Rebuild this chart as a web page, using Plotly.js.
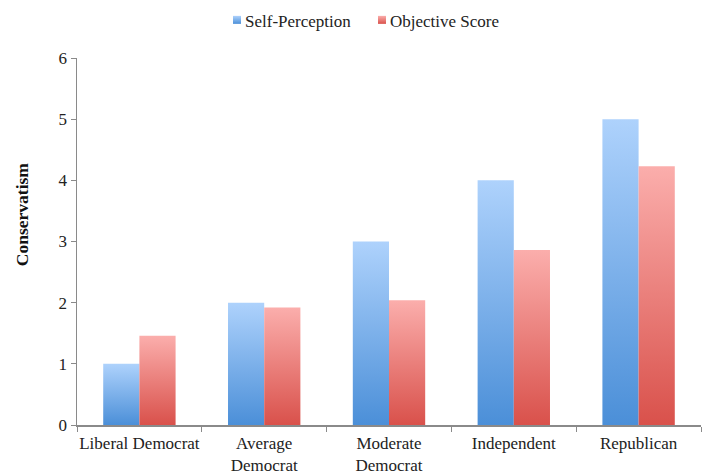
<!DOCTYPE html>
<html>
<head>
<meta charset="utf-8">
<script src="https://cdn.plot.ly/plotly-3.0.1.min.js"></script>
<style>
  html, body { margin: 0; padding: 0; background: #fff; }
  #chart { width: 707px; height: 474px; }
</style>
</head>
<body>
<div id="chart"></div>
<script>
// Party groups and their conservatism scores
const categories = ['Liberal Democrat', 'Average<br>Democrat', 'Moderate<br>Democrat', 'Independent', 'Republican'];
const selfPerception = [1, 2, 3, 4, 5];
const objectiveScore = [1.46, 1.92, 2.04, 2.86, 4.23];
const yTicks = [0, 1, 2, 3, 4, 5, 6];

const FONT = 'Liberation Serif, Times New Roman, serif';
const FS = 17;

const traces = [
  {
    type: 'bar', name: 'Self-Perception',
    x: categories, y: selfPerception,
    marker: { color: '#78ade9', line: { width: 0 } },
    hoverinfo: 'skip'
  },
  {
    type: 'bar', name: 'Objective Score',
    x: categories, y: objectiveScore,
    marker: { color: '#ec7d79', line: { width: 0 } },
    hoverinfo: 'skip'
  }
];

const layout = {
  width: 707, height: 474,
  margin: { l: 77, r: 6, t: 58, b: 49 },
  paper_bgcolor: '#ffffff', plot_bgcolor: '#ffffff',
  font: { family: FONT, size: FS, color: '#222' },
  barmode: 'group', bargap: 0.42, bargroupgap: 0,
  showlegend: true,
  legend: {
    orientation: 'h', x: 0.463, xanchor: 'center',
    y: 1.0, yref: 'container', yanchor: 'top',
    font: { family: FONT, size: FS, color: '#222' },
    itemwidth: 30, tracegroupgap: 0
  },
  xaxis: {
    showline: true, linecolor: '#8a8a8a', linewidth: 1.5,
    ticks: 'outside', tickson: 'boundaries', ticklen: 5, tickcolor: '#8a8a8a',
    tickangle: 0, ticklabelstandoff: 2,
    showgrid: false, zeroline: false, fixedrange: true,
    tickfont: { family: FONT, size: FS, color: '#222' }
  },
  yaxis: {
    range: [0, 6], tickvals: yTicks, ticktext: yTicks.map(String),
    showline: true, linecolor: '#8a8a8a', linewidth: 1.5,
    ticks: 'outside', ticklen: 5, tickcolor: '#8a8a8a',
    showgrid: false, zeroline: false, fixedrange: true,
    tickfont: { family: FONT, size: FS, color: '#222' }
  },
  annotations: [{
    text: '<b>Conservatism</b>', textangle: -90,
    xref: 'paper', yref: 'paper', x: -0.088, y: 0.572,
    xanchor: 'center', yanchor: 'middle', showarrow: false,
    font: { family: FONT, size: FS + 0.5, color: '#111' }
  }]
};

// Vertical light-to-dark fills for each series
const gradients = [
  { id: 'gradBlue', top: '#aed2fc', bottom: '#4b8fd8' },
  { id: 'gradRed', top: '#fbaeac', bottom: '#d9514b' }
];

// Where each legend label starts (left edge, vertical centre)
const legendSpots = [[245, 21], [390, 21]];

function applyGradients(gd) {
  const svg = gd.querySelector('svg.main-svg');
  const ns = 'http://www.w3.org/2000/svg';
  let defs = svg.querySelector('defs');
  if (!defs) { defs = document.createElementNS(ns, 'defs'); svg.insertBefore(defs, svg.firstChild); }
  gradients.forEach(g => {
    if (document.getElementById(g.id)) return;
    const lg = document.createElementNS(ns, 'linearGradient');
    lg.setAttribute('id', g.id);
    lg.setAttribute('x1', '0'); lg.setAttribute('y1', '0');
    lg.setAttribute('x2', '0'); lg.setAttribute('y2', '1');
    [[0, g.top], [1, g.bottom]].forEach(([off, col]) => {
      const s = document.createElementNS(ns, 'stop');
      s.setAttribute('offset', off);
      s.setAttribute('stop-color', col);
      lg.appendChild(s);
    });
    defs.appendChild(lg);
  });
  gd.querySelectorAll('g.trace.bars').forEach((tr, i) => {
    tr.querySelectorAll('path').forEach(p => { p.style.fill = 'url(#' + gradients[i].id + ')'; });
  });
  // small square legend keys sitting close to their labels
  const svgBox = svg.getBoundingClientRect();
  gd.querySelectorAll('g.legend g.traces').forEach((tr, i) => {
    const pts = tr.querySelector('g.legendpoints');
    if (pts) pts.setAttribute('transform', 'translate(12,0)');
    tr.querySelectorAll('g.legendpoints path').forEach(p => {
      p.setAttribute('d', 'M4,4H-4V-4H4Z');
      p.style.fill = 'url(#' + gradients[i].id + ')';
    });
    const txt = tr.querySelector('text.legendtext');
    if (!txt || !legendSpots[i]) return;
    const b = txt.getBoundingClientRect();
    const dx = legendSpots[i][0] - (b.left - svgBox.left);
    const dy = legendSpots[i][1] - (b.top + b.height / 2 - svgBox.top);
    const m = /translate\(([-\d.]+)[ ,]*([-\d.]+)?\)/.exec(tr.getAttribute('transform') || '');
    const x0 = m ? parseFloat(m[1]) : 0;
    const y0 = m && m[2] ? parseFloat(m[2]) : 0;
    tr.setAttribute('transform', 'translate(' + (x0 + dx) + ',' + (y0 + dy) + ')');
  });
}

Plotly.newPlot('chart', traces, layout, { displayModeBar: false, staticPlot: true })
  .then(applyGradients);
</script>
</body>
</html>
